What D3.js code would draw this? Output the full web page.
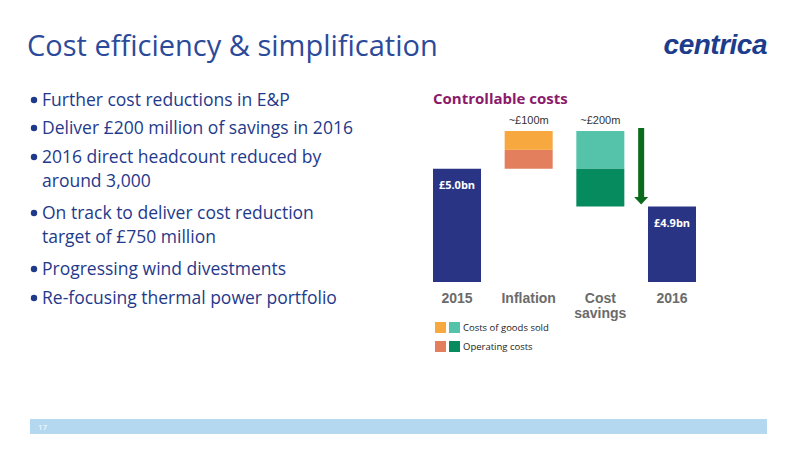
<!DOCTYPE html>
<html><head><meta charset="utf-8">
<script src="https://cdn.jsdelivr.net/npm/d3@7"></script>
<style>body{margin:0;background:#fff}svg{display:block}</style>
</head><body>
<script>
// Schematic waterfall units (as drawn in the reference)
const categories = ["2015", "Inflation", "Cost savings", "2016"];
const totals = [{cat:"2015", value:6, label:"£5.0bn"}, {cat:"2016", value:4, label:"£4.9bn"}];
const inflationParts = [{name:"Operating costs", from:6, to:7}, {name:"Costs of goods sold", from:7, to:8}];
const savingsParts = [{name:"Costs of goods sold", from:8, to:6}, {name:"Operating costs", from:6, to:4}];
const stepLabels = [{cat:"Inflation", label:"~£100m"}, {cat:"Cost savings", label:"~£200m"}];
const bullets = ["Further cost reductions in E&P","Deliver £200 million of savings in 2016",
 ["2016 direct headcount reduced by","around 3,000"],["On track to deliver cost reduction","target of £750 million"],
 "Progressing wind divestments","Re-focusing thermal power portfolio"];
const legendItems = [{name:"Costs of goods sold", colors:["#f7a940","#55c3a9"]},{name:"Operating costs", colors:["#e47f5e","#068b5f"]}];

const svg = d3.select("body").append("svg").attr("width",800).attr("height",450);
svg.append("text").attr("x",27).attr("y",56).attr("fill","#2c4a9a").attr("font-family","Open Sans").attr("font-size",29).text("Cost efficiency & simplification");
svg.append("text").attr("x",767).attr("y",54).attr("text-anchor","end").attr("fill","#1d3c8c").attr("font-family","Liberation Sans").attr("font-weight","bold").attr("font-style","italic").attr("font-size",28).attr("letter-spacing",-0.5).text("centrica");

const by=[106,134,163,219,275,304];
bullets.forEach((b,i)=>{
  const lines = Array.isArray(b)?b:[b];
  svg.append("circle").attr("cx",34).attr("cy",by[i]-6).attr("r",3.2).attr("fill","#1f3a8a");
  lines.forEach((l,j)=>svg.append("text").attr("x",42).attr("y",by[i]+j*24).attr("fill","#1f3a8a")
    .attr("font-family","Open Sans").attr("font-size",17.5).text(l));
});

svg.append("text").attr("x",433).attr("y",104).attr("fill","#8b1a6b").attr("font-family","Open Sans").attr("font-weight","bold").attr("font-size",15).text("Controllable costs");

const x=d3.scaleBand().domain(categories).range([433,696]).paddingInner(0.33).paddingOuter(0);
const y=d3.scaleLinear().domain([0,8]).range([282,131]);
const bw=x.bandwidth();
const g=svg.append("g");
g.selectAll(".tot").data(totals).join("rect").attr("x",d=>x(d.cat)).attr("width",bw)
 .attr("y",d=>y(d.value)).attr("height",d=>y(0)-y(d.value)).attr("fill","#293584");
g.selectAll(".tl").data(totals).join("text").attr("x",d=>x(d.cat)+bw/2).attr("y",d=>y(d.value)+20)
 .attr("text-anchor","middle").attr("fill","#fff").attr("font-family","Open Sans").attr("font-weight","bold").attr("font-size",11).text(d=>d.label);
const infC={"Operating costs":"#e47f5e","Costs of goods sold":"#f7a940"};
const savC={"Operating costs":"#068b5f","Costs of goods sold":"#55c3a9"};
g.selectAll(".inf").data(inflationParts).join("rect").attr("x",x("Inflation")).attr("width",bw)
 .attr("y",d=>y(d.to)).attr("height",d=>y(d.from)-y(d.to)).attr("fill",d=>infC[d.name]);
g.selectAll(".sav").data(savingsParts).join("rect").attr("x",x("Cost savings")).attr("width",bw)
 .attr("y",d=>y(d.from)).attr("height",d=>y(d.to)-y(d.from)).attr("fill",d=>savC[d.name]);
g.selectAll(".sl").data(stepLabels).join("text").attr("x",d=>x(d.cat)+bw/2).attr("y",y(8)-7)
 .attr("text-anchor","middle").attr("fill","#333").attr("font-family","Liberation Sans").attr("font-size",11).text(d=>d.label);
const ax=x("Cost savings")+bw+(x("2016")-x("Cost savings")-bw)/2+5;
svg.append("rect").attr("x",ax-3).attr("y",y(8)-3).attr("width",6).attr("height",y(4.5)-y(8)+3).attr("fill","#0b6b1c");
svg.append("path").attr("d",`M${ax-7},${y(4.5)} L${ax+7},${y(4.5)} L${ax},${y(4.1)} Z`).attr("fill","#0b6b1c");
categories.forEach(c=>{
  const parts=c==="Cost savings"?["Cost","savings"]:[c];
  parts.forEach((p,j)=>svg.append("text").attr("x",x(c)+bw/2).attr("y",303+j*15).attr("text-anchor","middle")
   .attr("fill","#6b6b6b").attr("font-family","Liberation Sans").attr("font-weight","bold").attr("font-size",14).text(p));
});
legendItems.forEach((d,i)=>{
  d.colors.forEach((c,k)=>svg.append("rect").attr("x",435+k*14).attr("y",322+i*19).attr("width",11).attr("height",11).attr("fill",c));
  svg.append("text").attr("x",463).attr("y",331+i*19).attr("fill","#222").attr("font-family","Open Sans").attr("font-size",9.5).text(d.name);
});
svg.append("rect").attr("x",30).attr("y",419).attr("width",737).attr("height",15).attr("fill","#b4d8f0");
svg.append("text").attr("x",38).attr("y",430).attr("fill","#fff").attr("font-family","Open Sans").attr("font-size",8).text("17");
</script></body></html>
